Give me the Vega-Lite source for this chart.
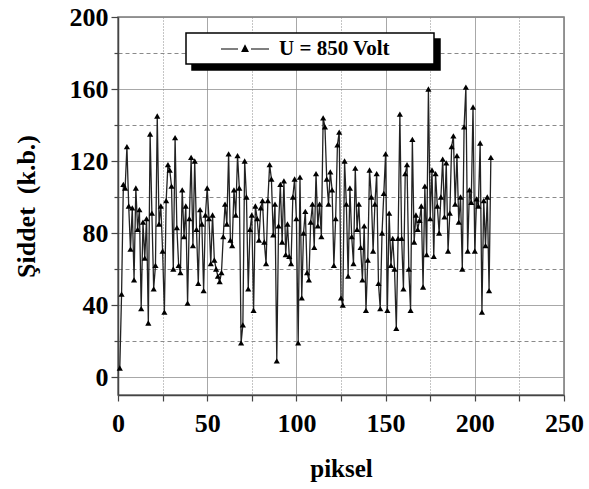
{
  "$schema": "https://vega.github.io/schema/vega-lite/v6.json",
  "width": 446,
  "height": 378,
  "autosize": {"type": "none"},
  "padding": {"left": 118, "top": 17, "right": 25, "bottom": 94},
  "background": "white",
  "config": {
    "view": {"stroke": "#777", "strokeWidth": 1.5},
    "font": "Liberation Serif",
    "legend": {"strokeWidth": 1.5},
    "axis": {
      "labelFont": "Liberation Serif", "labelFontWeight": "bold", "labelFontSize": 26, "labelColor": "black",
      "titleFont": "Liberation Serif", "titleFontWeight": "bold", "titleFontSize": 25, "titleColor": "black",
      "domainColor": "#444", "domainWidth": 1.5, "tickColor": "#444", "tickWidth": 1.2,
      "gridColor": "#8a8a8a", "gridWidth": 1, "gridOpacity": 1
    }
  },
  "data": {"values": [
    {"x":1,"y":5},{"x":2,"y":46},{"x":3,"y":107},{"x":4,"y":105},{"x":5,"y":128},{"x":6,"y":95},{"x":7,"y":71},{"x":8,"y":94},{"x":9,"y":54},{"x":10,"y":105},
    {"x":11,"y":82},{"x":12,"y":93},{"x":13,"y":38},{"x":14,"y":86},{"x":15,"y":66},{"x":16,"y":88},{"x":17,"y":30},{"x":18,"y":135},{"x":19,"y":91},{"x":20,"y":49},
    {"x":21,"y":62},{"x":22,"y":145},{"x":23,"y":85},{"x":24,"y":95},{"x":25,"y":70},{"x":26,"y":36},{"x":27,"y":98},{"x":28,"y":118},{"x":29,"y":115},{"x":30,"y":106},
    {"x":31,"y":60},{"x":32,"y":133},{"x":33,"y":83},{"x":34,"y":62},{"x":35,"y":58},{"x":36,"y":104},{"x":37,"y":78},{"x":38,"y":95},{"x":39,"y":41},{"x":40,"y":88},
    {"x":41,"y":122},{"x":42,"y":73},{"x":43,"y":120},{"x":44,"y":82},{"x":45,"y":52},{"x":46,"y":93},{"x":47,"y":85},{"x":48,"y":48},{"x":49,"y":90},{"x":50,"y":105},
    {"x":51,"y":88},{"x":52,"y":63},{"x":53,"y":90},{"x":54,"y":65},{"x":55,"y":60},{"x":56,"y":56},{"x":57,"y":53},{"x":58,"y":58},{"x":59,"y":78},{"x":60,"y":96},
    {"x":61,"y":85},{"x":62,"y":124},{"x":63,"y":76},{"x":64,"y":73},{"x":65,"y":104},{"x":66,"y":90},{"x":67,"y":123},{"x":68,"y":105},{"x":69,"y":19},{"x":70,"y":29},
    {"x":71,"y":120},{"x":72,"y":100},{"x":73,"y":49},{"x":74,"y":82},{"x":75,"y":90},{"x":76,"y":37},{"x":77,"y":95},{"x":78,"y":88},{"x":79,"y":76},{"x":80,"y":94},
    {"x":81,"y":98},{"x":82,"y":75},{"x":83,"y":63},{"x":84,"y":98},{"x":85,"y":118},{"x":86,"y":110},{"x":87,"y":79},{"x":88,"y":96},{"x":89,"y":9},{"x":90,"y":84},
    {"x":91,"y":107},{"x":92,"y":75},{"x":93,"y":109},{"x":94,"y":68},{"x":95,"y":85},{"x":96,"y":67},{"x":97,"y":63},{"x":98,"y":100},{"x":99,"y":110},{"x":100,"y":88},
    {"x":101,"y":19},{"x":102,"y":111},{"x":103,"y":44},{"x":104,"y":80},{"x":105,"y":92},{"x":106,"y":58},{"x":107,"y":54},{"x":108,"y":86},{"x":109,"y":96},{"x":110,"y":72},
    {"x":111,"y":113},{"x":112,"y":84},{"x":113,"y":96},{"x":114,"y":78},{"x":115,"y":144},{"x":116,"y":139},{"x":117,"y":110},{"x":118,"y":96},{"x":119,"y":114},{"x":120,"y":104},
    {"x":121,"y":62},{"x":122,"y":88},{"x":123,"y":129},{"x":124,"y":136},{"x":125,"y":44},{"x":126,"y":40},{"x":127,"y":120},{"x":128,"y":96},{"x":129,"y":56},{"x":130,"y":105},
    {"x":131,"y":78},{"x":132,"y":63},{"x":133,"y":116},{"x":134,"y":82},{"x":135,"y":96},{"x":136,"y":72},{"x":137,"y":54},{"x":138,"y":84},{"x":139,"y":37},{"x":140,"y":65},
    {"x":141,"y":115},{"x":142,"y":100},{"x":143,"y":70},{"x":144,"y":96},{"x":145,"y":113},{"x":146,"y":52},{"x":147,"y":38},{"x":148,"y":80},{"x":149,"y":102},{"x":150,"y":124},
    {"x":151,"y":37},{"x":152,"y":91},{"x":153,"y":62},{"x":154,"y":77},{"x":155,"y":60},{"x":156,"y":27},{"x":157,"y":77},{"x":158,"y":146},{"x":159,"y":77},{"x":160,"y":49},
    {"x":161,"y":113},{"x":162,"y":118},{"x":163,"y":60},{"x":164,"y":37},{"x":165,"y":132},{"x":166,"y":75},{"x":167,"y":90},{"x":168,"y":82},{"x":169,"y":87},{"x":170,"y":95},
    {"x":171,"y":50},{"x":172,"y":106},{"x":173,"y":68},{"x":174,"y":160},{"x":175,"y":88},{"x":176,"y":115},{"x":177,"y":67},{"x":178,"y":113},{"x":179,"y":95},{"x":180,"y":80},
    {"x":181,"y":100},{"x":182,"y":121},{"x":183,"y":89},{"x":184,"y":119},{"x":185,"y":70},{"x":186,"y":91},{"x":187,"y":128},{"x":188,"y":134},{"x":189,"y":96},{"x":190,"y":123},
    {"x":191,"y":86},{"x":192,"y":100},{"x":193,"y":60},{"x":194,"y":139},{"x":195,"y":161},{"x":196,"y":70},{"x":197,"y":104},{"x":198,"y":97},{"x":199,"y":150},{"x":200,"y":70},
    {"x":201,"y":99},{"x":202,"y":95},{"x":203,"y":130},{"x":204,"y":36},{"x":205,"y":98},{"x":206,"y":73},{"x":207,"y":100},{"x":208,"y":48},{"x":209,"y":122}
  ]},
  "encoding": {
    "x": {
      "field": "x", "type": "quantitative",
      "scale": {"domain": [0, 250], "nice": false, "zero": false},
      "axis": {
        "title": "piksel", "titlePadding": 20,
        "values": [0, 25, 50, 75, 100, 125, 150, 175, 200, 225, 250],
        "labelExpr": "datum.value % 50 === 0 ? datum.label : ''",
        "labelPadding": 9, "labelFlush": false,
        "tickSize": 6,
        "gridDash": {"condition": {"test": "datum.value % 50 !== 0", "value": [1, 2]}, "value": [1, 0]}
      }
    },
    "y": {
      "field": "y", "type": "quantitative",
      "scale": {"domain": [-10, 200], "nice": false, "zero": false},
      "axis": {
        "title": "Şiddet\u00a0 (k.b.)", "titleFontSize": 26, "titlePadding": 30,
        "values": [0, 20, 40, 60, 80, 100, 120, 140, 160, 180, 200],
        "labelExpr": "datum.value % 40 === 0 ? datum.label : ''",
        "labelPadding": 3,
        "tickSize": {"condition": {"test": "datum.value % 40 !== 0", "value": 4}, "value": 7},
        "gridDash": {"condition": {"test": "datum.value % 40 !== 0", "value": [4, 3]}, "value": [1, 0]}
      }
    }
  },
  "layer": [
    {
      "mark": {"type": "line", "color": "#222", "strokeWidth": 1.3},
      "encoding": {
        "opacity": {
          "datum": "U = 850 Volt\u00a0", "type": "nominal",
          "scale": {"range": [1]},
          "legend": {
            "orient": "none", "legendX": 74, "legendY": 22, "title": null,
            "padding": 5, "fillColor": "black", "strokeColor": "black",
            "symbolType": "M-1,0M22.4,0M1.9,0L3.6,0M4.9,0L6.7,0M4,0.25L4.3,-0.35L4.6,0.25Z",
            "symbolSize": 400, "symbolFillColor": "black", "symbolStrokeColor": "black", "symbolStrokeWidth": 1.2,
            "labelExpr": "''",
            "labelOffset": 66, "labelFont": "Liberation Serif", "labelFontWeight": "bold", "labelFontSize": 21, "labelColor": "black"
          }
        }
      }
    },
    {
      "mark": {"type": "point", "shape": "triangle-up", "filled": true, "size": 38, "opacity": 1},
      "encoding": {
        "color": {
          "datum": "U = 850 Volt", "type": "nominal",
          "scale": {"range": ["black"]},
          "legend": {
            "orient": "none", "legendX": 68, "legendY": 16, "title": null,
            "padding": 5, "fillColor": "white", "strokeColor": "black",
            "symbolType": "M-1,0M22.4,0M1.9,0L3.6,0M4.9,0L6.7,0M4,0.25L4.3,-0.35L4.6,0.25Z",
            "symbolSize": 400, "symbolFillColor": "black", "symbolStrokeColor": "black", "symbolStrokeWidth": 1.2,
            "labelOffset": 66, "labelFont": "Liberation Serif", "labelFontWeight": "bold", "labelFontSize": 21, "labelColor": "black"
          }
        }
      }
    }
  ]
}
